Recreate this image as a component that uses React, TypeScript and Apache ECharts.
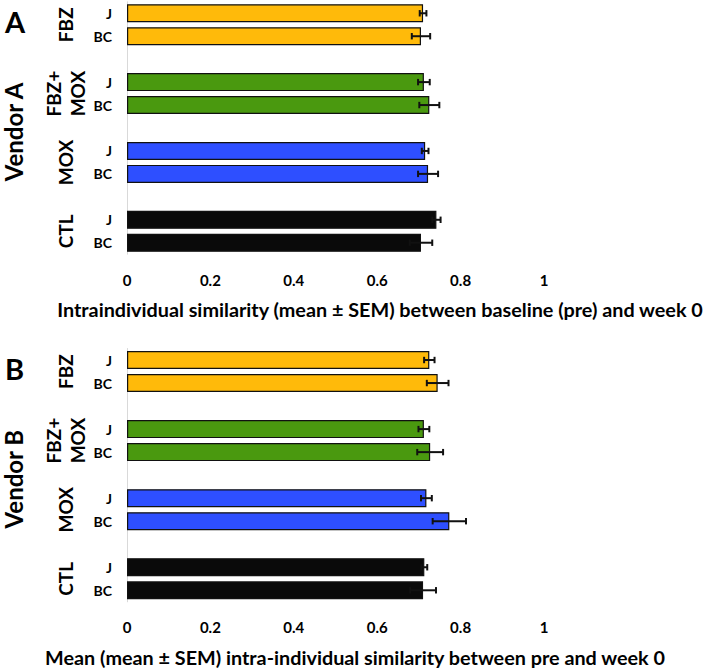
import React, { useEffect, useRef } from "react";
import * as echarts from "echarts";

const groups = ["FBZ", "FBZ+MOX", "MOX", "CTL"];
const groupLabelLines = [["FBZ"], ["FBZ+", "MOX"], ["MOX"], ["CTL"]];
const subgroups = ["J", "BC"];
const groupColors = ["#FFBA0A", "#4A990F", "#2E4FFF", "#0A0A0A"];
const xTicks = [0, 0.2, 0.4, 0.6, 0.8, 1];

// order: FBZ J, FBZ BC, FBZ+MOX J, FBZ+MOX BC, MOX J, MOX BC, CTL J, CTL BC
const vendorAMean = [0.71, 0.705, 0.712, 0.725, 0.715, 0.722, 0.742, 0.705];
const vendorASem = [0.008, 0.022, 0.014, 0.024, 0.008, 0.024, 0.01, 0.027];
const vendorBMean = [0.725, 0.745, 0.712, 0.727, 0.718, 0.773, 0.713, 0.71];
const vendorBSem = [0.0125, 0.026, 0.013, 0.031, 0.013, 0.04, 0.007, 0.031];

const panelLetters = ["A", "B"];
const vendorNames = ["Vendor A", "Vendor B"];
const axisTitles = [
  "Intraindividual similarity (mean \u00B1 SEM) between baseline (pre) and week 0",
  "Mean (mean \u00B1 SEM) intra-individual similarity between pre and week 0",
];

// categories (with empty spacer slots between groups)
const categories: string[] = [];
groups.forEach((g, gi) => {
  subgroups.forEach((s) => categories.push(g + "|" + s));
  if (gi < groups.length - 1) categories.push("gap" + gi);
});

const FONT = "Lato";
const W = 708;
const H = 671;
const GRID_LEFT = 127;
const AXIS_W = 417;
const panels = [
  { top: 1.8, height: 252.4, titleX: 380, titleY: 309 },
  { top: 348.5, height: 253.3, titleX: 355, titleY: 657 },
];

function buildBarData(means: number[]) {
  const out: any[] = [];
  let k = 0;
  categories.forEach((c) => {
    if (c.startsWith("gap")) {
      out.push("-");
    } else {
      const gi = groups.indexOf(c.split("|")[0]);
      out.push({ value: means[k], itemStyle: { color: groupColors[gi] } });
      k++;
    }
  });
  return out;
}

function buildErrData(means: number[], sems: number[]) {
  const out: any[] = [];
  let k = 0;
  categories.forEach((c) => {
    if (!c.startsWith("gap")) {
      out.push([c, means[k] - sems[k], means[k] + sems[k]]);
      k++;
    }
  });
  return out;
}

const errRender = (params: any, api: any) => {
  const cat = api.value(0);
  const lo = api.coord([api.value(1), cat]);
  const hi = api.coord([api.value(2), cat]);
  const cap = 3.2;
  const style = { stroke: "#111", lineWidth: 2 };
  return {
    type: "group",
    children: [
      { type: "line", shape: { x1: lo[0], y1: lo[1], x2: hi[0], y2: hi[1] }, style },
      { type: "line", shape: { x1: lo[0], y1: lo[1] - cap, x2: lo[0], y2: lo[1] + cap }, style },
      { type: "line", shape: { x1: hi[0], y1: hi[1] - cap, x2: hi[0], y2: hi[1] + cap }, style },
    ],
  };
};

export default function App() {
  const ref = useRef<HTMLDivElement>(null);
  useEffect(() => {
    if (!ref.current) return;
    const chart = echarts.init(ref.current, null, { renderer: "svg" });
    const means = [vendorAMean, vendorBMean];
    const sems = [vendorASem, vendorBSem];

    const graphic: any[] = [];
    panels.forEach((p, pi) => {
      const slot = p.height / categories.length;
      // panel letter
      graphic.push({
        type: "text",
        left: 5,
        top: p.top + 5,
        style: { text: panelLetters[pi], font: `bold 29px ${FONT}`, fill: "#000" },
      });
      // vendor label (rotated)
      graphic.push({
        type: "text",
        x: 13,
        y: p.top + p.height / 2 + 4,
        rotation: Math.PI / 2,
        style: {
          text: vendorNames[pi],
          font: `bold 24px ${FONT}`,
          fill: "#000",
          align: "center",
          verticalAlign: "middle",
        },
      });
      // group labels
      groups.forEach((g, gi) => {
        const cy = p.top + slot * (3 * gi + 1);
        const lines = groupLabelLines[gi];
        lines.forEach((ln, li) => {
          const cx = lines.length === 1 ? 65 : li === 0 ? 53 : 77;
          graphic.push({
            type: "text",
            x: cx,
            y: cy,
            rotation: Math.PI / 2,
            style: {
              text: ln,
              font: `bold 19px ${FONT}`,
              fill: "#000",
              align: "center",
              verticalAlign: "middle",
            },
          });
        });
      });
      // axis title
      graphic.push({
        type: "text",
        x: p.titleX,
        y: p.titleY,
        style: {
          text: axisTitles[pi],
          font: `bold 19.8px ${FONT}`,
          fill: "#000",
          align: "center",
          verticalAlign: "middle",
        },
      });
    });

    const option: any = {
      animation: false,
      backgroundColor: "#fff",
      grid: panels.map((p) => ({
        left: GRID_LEFT,
        top: p.top,
        width: AXIS_W,
        height: p.height,
        containLabel: false,
      })),
      xAxis: panels.map((_, pi) => ({
        type: "value",
        gridIndex: pi,
        min: xTicks[0],
        max: xTicks[xTicks.length - 1],
        interval: 0.2,
        axisLine: { show: false },
        axisTick: { show: false },
        splitLine: { show: false },
        axisLabel: {
          margin: 18,
          fontFamily: FONT,
          fontWeight: "bold",
          fontSize: 15,
          color: "#000",
          formatter: (v: number) => String(parseFloat(v.toFixed(1))),
        },
      })),
      yAxis: panels.map((_, pi) => ({
        type: "category",
        gridIndex: pi,
        data: categories,
        inverse: true,
        axisLine: { show: true, lineStyle: { color: "#D9D9D9", width: 1 } },
        axisTick: { show: false },
        splitLine: { show: false },
        axisLabel: {
          margin: 15,
          fontFamily: FONT,
          fontWeight: "bold",
          fontSize: 14,
          color: "#000",
          interval: 0,
          formatter: (v: string) => (v.startsWith("gap") ? "" : v.split("|")[1]),
        },
      })),
      series: [
        ...panels.map((_, pi) => ({
          type: "bar",
          xAxisIndex: pi,
          yAxisIndex: pi,
          barWidth: 18,
          data: buildBarData(means[pi]),
          itemStyle: { borderColor: "#111", borderWidth: 1.2 },
        })),
        ...panels.map((_, pi) => ({
          type: "custom",
          xAxisIndex: pi,
          yAxisIndex: pi,
          renderItem: errRender,
          encode: { y: 0, x: [1, 2] },
          data: buildErrData(means[pi], sems[pi]),
          z: 5,
        })),
      ],
      graphic,
    };
    chart.setOption(option);
    return () => chart.dispose();
  }, []);
  return (
    <div
      ref={ref}
      style={{ position: "fixed", left: 0, top: 0, width: W, height: H, background: "#fff" }}
    />
  );
}
